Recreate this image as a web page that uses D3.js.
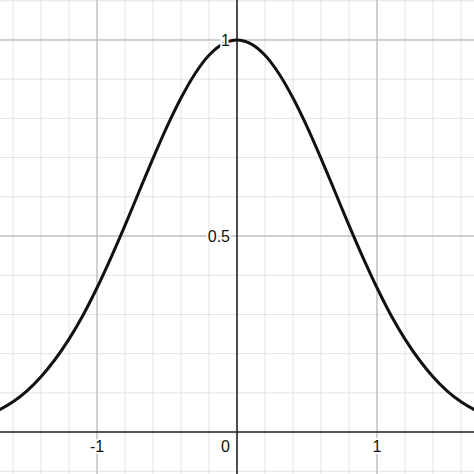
<!DOCTYPE html>
<html><head><meta charset="utf-8">
<script src="https://cdn.jsdelivr.net/npm/d3@7"></script>
<style>body{margin:0;background:#fff}svg{display:block}</style>
</head><body>
<script>
const xs=[-1.8,-1.7,-1.6,-1.5,-1.4,-1.3,-1.2,-1.1,-1.0,-0.9,-0.8,-0.7,-0.6,-0.5,-0.4,-0.3,-0.2,-0.1,0,0.1,0.2,0.3,0.4,0.5,0.6,0.7,0.8,0.9,1.0,1.1,1.2,1.3,1.4,1.5,1.6,1.7,1.8];
const ys=[0.039,0.056,0.077,0.105,0.141,0.185,0.237,0.298,0.368,0.445,0.527,0.613,0.698,0.779,0.852,0.914,0.961,0.990,1,0.990,0.961,0.914,0.852,0.779,0.698,0.613,0.527,0.445,0.368,0.298,0.237,0.185,0.141,0.105,0.077,0.056,0.039];
const xTicks=[-1,0,1], xLabels=["-1","0","1"];
const yTicks=[0.5,1], yLabels=["0.5","1"];
const W=474,H=474;
const x=d3.scaleLinear().domain([-1.693,1.693]).range([0,W]);
const y=d3.scaleLinear().domain([-0.107,1.102]).range([H,0]);
const svg=d3.select("body").append("svg").attr("width",W).attr("height",H);
const minorX=d3.range(-1.8,1.81,0.2), minorY=d3.range(-0.1,1.11,0.1);
svg.selectAll(".mx").data(minorX).enter().append("line").attr("x1",d=>x(d)).attr("x2",d=>x(d)).attr("y1",0).attr("y2",H).attr("stroke","#e3e3e3").attr("stroke-width",1);
svg.selectAll(".my").data(minorY).enter().append("line").attr("y1",d=>y(d)).attr("y2",d=>y(d)).attr("x1",0).attr("x2",W).attr("stroke","#e3e3e3").attr("stroke-width",1);
svg.selectAll(".Mx").data(xTicks).enter().append("line").attr("x1",d=>x(d)).attr("x2",d=>x(d)).attr("y1",0).attr("y2",H).attr("stroke","#b0b0b0").attr("stroke-width",1);
svg.selectAll(".My").data(yTicks).enter().append("line").attr("y1",d=>y(d)).attr("y2",d=>y(d)).attr("x1",0).attr("x2",W).attr("stroke","#b0b0b0").attr("stroke-width",1);
svg.append("line").attr("x1",x(0)).attr("x2",x(0)).attr("y1",0).attr("y2",H).attr("stroke","#222").attr("stroke-width",1.5);
svg.append("line").attr("y1",y(0)).attr("y2",y(0)).attr("x1",0).attr("x2",W).attr("stroke","#222").attr("stroke-width",1.5);
const pts=xs.map((v,i)=>[v,ys[i]]);
svg.append("path").attr("d",d3.line().x(d=>x(d[0])).y(d=>y(d[1])).curve(d3.curveCatmullRom)(pts)).attr("fill","none").attr("stroke","#111").attr("stroke-width",3);
const lab=(t,px,py,anchor)=>{
  const g=svg.append("text").attr("x",px).attr("y",py).attr("text-anchor",anchor).attr("font-family","Liberation Sans, Arial").attr("font-size",16).attr("fill","#111")
   .attr("stroke","#fff").attr("stroke-width",4).attr("paint-order","stroke").text(t);
};
xTicks.forEach((v,i)=>{ if(v===0) lab(xLabels[i],x(0)-7,y(0)+20,"end"); else lab(xLabels[i],x(v),y(0)+20,"middle");});
yTicks.forEach((v,i)=>lab(yLabels[i],x(0)-7,y(v)+6,"end"));
</script>
</body></html>
